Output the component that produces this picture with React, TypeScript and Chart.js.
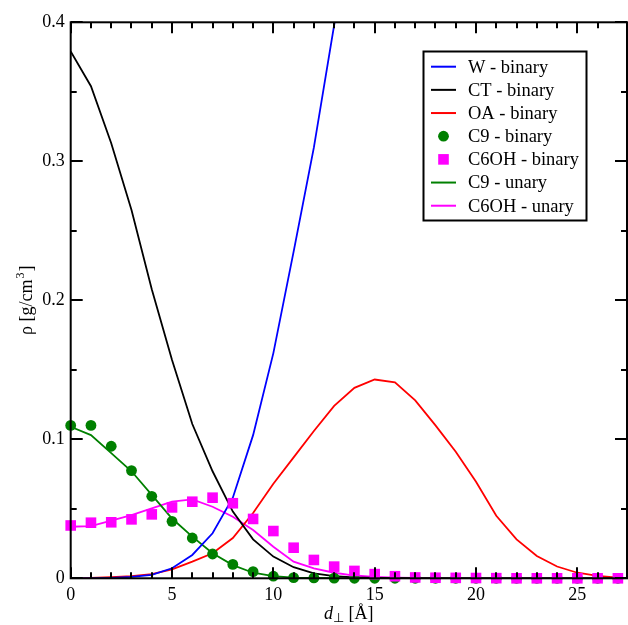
import React, { useEffect, useRef } from "react";
import { Chart, registerables } from "chart.js";

Chart.register(...registerables);

// distance from interface, Å
const xs = [0, 1, 2, 3, 4, 5, 6, 7, 8, 9, 10, 11, 12, 13, 14, 15, 16, 17, 18, 19, 20, 21, 22, 23, 24, 25, 26, 27];

// densities, g/cm^3
const wBinary = [0, 0, 0.0003, 0.001, 0.0025, 0.0072, 0.0168, 0.0324, 0.058, 0.103, 0.162, 0.235, 0.31, 0.398, 0.48];
const ctBinary = [0.379, 0.354, 0.313, 0.265, 0.208, 0.157, 0.111, 0.077, 0.048, 0.028, 0.0156, 0.008, 0.0036, 0.0016, 0.0006, 0.0002, 0.0001, 0, 0, 0, 0, 0, 0, 0, 0, 0, 0, 0];
const oaBinary = [0, 0.0003, 0.0008, 0.0015, 0.003, 0.0065, 0.012, 0.018, 0.029, 0.047, 0.068, 0.087, 0.106, 0.124, 0.137, 0.143, 0.141, 0.128, 0.11, 0.091, 0.0695, 0.045, 0.028, 0.016, 0.0085, 0.004, 0.0017, 0.0005];
const c9Binary = [0.11, 0.11, 0.095, 0.0775, 0.059, 0.041, 0.029, 0.0175, 0.01, 0.0048, 0.0015, 0.0005, 0.0003, 0.0001, 0, 0, 0, 0, 0, 0, 0, 0, 0, 0, 0, 0, 0, 0];
const c6ohBinary = [0.038, 0.04, 0.0403, 0.0424, 0.046, 0.051, 0.0551, 0.058, 0.054, 0.0427, 0.034, 0.022, 0.0132, 0.0084, 0.0053, 0.003, 0.0015, 0.0006, 0.0004, 0.0003, 0.0002, 0.0001, 0, 0, 0, 0, 0, 0];
const c9Unary = [0.109, 0.103, 0.09, 0.077, 0.06, 0.043, 0.03, 0.018, 0.0095, 0.004, 0.0015, 0.0005, 0.0002, 0.0001, 0, 0, 0, 0, 0, 0, 0, 0, 0, 0, 0, 0, 0, 0];
const c6ohUnary = [0.0371, 0.0376, 0.0415, 0.0455, 0.0503, 0.0551, 0.0568, 0.0515, 0.0443, 0.0347, 0.0227, 0.012, 0.0072, 0.004, 0.002, 0.001, 0.0005, 0.0002, 0.0001, 0, 0, 0, 0, 0, 0, 0, 0, 0];

const seriesLabels = ["W - binary", "CT - binary", "OA - binary", "C9 - binary", "C6OH - binary", "C9 - unary", "C6OH - unary"];

const xMajorStep = 5;
const yMajorStep = 0.1;

const FONT = '"Liberation Serif", "Times New Roman", serif';

const pts = (arr: number[]) => arr.map((v, i) => ({ x: xs[i], y: v }));

const framePlugin = {
  id: "frameAndLegend",
  afterDraw(chart: any) {
    const { ctx, chartArea: a } = chart;
    const xS = chart.scales.x;
    const yS = chart.scales.y;
    ctx.save();
    ctx.strokeStyle = "#000";
    ctx.lineWidth = 2;
    ctx.lineCap = "butt";
    ctx.strokeRect(a.left, a.top, a.right - a.left, a.bottom - a.top);
    const seg = (x1: number, y1: number, x2: number, y2: number) => {
      ctx.beginPath();
      ctx.moveTo(x1, y1);
      ctx.lineTo(x2, y2);
      ctx.stroke();
    };
    xS.ticks.forEach((t: any) => {
      if (!Number.isInteger(t.value)) return;
      const px = Math.round(xS.getPixelForValue(t.value));
      const len = t.value % xMajorStep === 0 ? 11 : 6;
      seg(px, a.bottom, px, a.bottom - len);
      seg(px, a.top, px, a.top + len);
    });
    yS.ticks.forEach((t: any) => {
      const k = Math.round(t.value * 100);
      const py = Math.round(yS.getPixelForValue(t.value));
      const len = k % Math.round(yMajorStep * 100) === 0 ? 12 : 6;
      seg(a.left, py, a.left + len, py);
      seg(a.right, py, a.right - len, py);
    });

    // axis titles
    ctx.fillStyle = "#000";
    ctx.textBaseline = "alphabetic";
    ctx.textAlign = "left";
    // y title
    ctx.save();
    ctx.translate(32, (a.top + a.bottom) / 2);
    ctx.rotate(-Math.PI / 2);
    ctx.font = `18px ${FONT}`;
    const p1 = "ρ [g/cm";
    const p3 = "]";
    const w1 = ctx.measureText(p1).width;
    ctx.font = `12px ${FONT}`;
    const w2 = ctx.measureText("3").width;
    ctx.font = `18px ${FONT}`;
    const w3 = ctx.measureText(p3).width;
    const sx = -(w1 + w2 + 2 + w3) / 2;
    ctx.fillText(p1, sx, 0);
    ctx.font = `12px ${FONT}`;
    ctx.fillText("3", sx + w1 + 1, -8);
    ctx.font = `18px ${FONT}`;
    ctx.fillText(p3, sx + w1 + w2 + 2, 0);
    ctx.restore();

    // x title
    {
      const cx = (a.left + a.right) / 2;
      const by = 619;
      ctx.font = `italic 18px ${FONT}`;
      const wd = ctx.measureText("d").width;
      ctx.font = `13px ${FONT}`;
      const wp = ctx.measureText("⊥").width;
      ctx.font = `18px ${FONT}`;
      const rest = " [Å]";
      const wr = ctx.measureText(rest).width;
      const x0 = cx - (wd + wp + wr) / 2;
      ctx.font = `italic 18px ${FONT}`;
      ctx.fillText("d", x0, by);
      ctx.font = `13px ${FONT}`;
      ctx.fillText("⊥", x0 + wd, by + 3);
      ctx.font = `18px ${FONT}`;
      ctx.fillText(rest, x0 + wd + wp, by);
    }

    // legend
    const bx = 423.5, by0 = 51.5, bw = 163, bh = 169;
    ctx.fillStyle = "#fff";
    ctx.fillRect(bx, by0, bw, bh);
    ctx.strokeStyle = "#000";
    ctx.lineWidth = 2;
    ctx.strokeRect(bx, by0, bw, bh);
    ctx.font = `18.5px ${FONT}`;
    ctx.textBaseline = "middle";
    chart.data.datasets.forEach((ds: any, i: number) => {
      const ry = 66.7 + i * 23.17;
      const col = ds.borderColor;
      if (ds.showLine === false) {
        ctx.fillStyle = ds.pointBackgroundColor;
        if (ds.pointStyle === "rect") {
          ctx.fillRect(443.5 - 5.3, ry - 5.3, 10.6, 10.6);
        } else {
          ctx.beginPath();
          ctx.arc(443.5, ry, 5.4, 0, Math.PI * 2);
          ctx.fill();
        }
      } else {
        ctx.strokeStyle = col;
        ctx.lineWidth = 2;
        seg(431, ry, 456, ry);
      }
      ctx.fillStyle = "#000";
      ctx.fillText(ds.label, 468, ry + 1);
    });
    ctx.restore();
  },
};

export default function App() {
  const ref = useRef<HTMLCanvasElement>(null);
  useEffect(() => {
    if (!ref.current) return;
    const lineDs = (label: string, arr: number[], color: string, extra: any = {}) => ({
      label,
      data: pts(arr),
      borderColor: color,
      backgroundColor: color,
      borderWidth: 1.8,
      pointRadius: 0,
      tension: 0,
      order: 3,
      ...extra,
    });
    const markDs = (label: string, arr: number[], color: string, style: string, r: number, order: number) => ({
      label,
      data: pts(arr),
      borderColor: color,
      backgroundColor: color,
      pointBackgroundColor: color,
      pointBorderWidth: 0,
      showLine: false,
      pointStyle: style,
      pointRadius: r,
      order,
      clip: false,
    });
    const chart = new Chart(ref.current, {
      type: "line",
      data: {
        datasets: [
          lineDs(seriesLabels[0], wBinary, "#0000ff", { clip: 0 }),
          lineDs(seriesLabels[1], ctBinary, "#000000"),
          lineDs(seriesLabels[2], oaBinary, "#ff0000"),
          markDs(seriesLabels[3], c9Binary, "#008000", "circle", 5.4, 2),
          markDs(seriesLabels[4], c6ohBinary, "#ff00ff", "rect", 7.5, 1),
          lineDs(seriesLabels[5], c9Unary, "#008000"),
          lineDs(seriesLabels[6], c6ohUnary, "#ff00ff"),
        ] as any,
      },
      options: {
        animation: false,
        responsive: false,
        devicePixelRatio: 1,
        layout: { autoPadding: false, padding: { top: 22.3, right: 1, left: 0, bottom: 0 } },
        plugins: { legend: { display: false }, tooltip: { enabled: false }, title: { display: false } },
        scales: {
          x: {
            type: "linear",
            min: 0,
            max: 27.45,
            grid: { display: false, drawTicks: false },
            border: { display: false },
            ticks: {
              stepSize: 1,
              autoSkip: false,
              maxRotation: 0,
              padding: 6,
              color: "#000",
              font: { family: FONT, size: 18 },
              callback: (v: any) => (Number.isInteger(v) && v % xMajorStep === 0 ? String(v) : ""),
            },
            afterFit: (s: any) => {
              s.height = 46.7;
              s.paddingLeft = 0;
              s.paddingRight = 0;
            },
          },
          y: {
            type: "linear",
            min: 0,
            max: 0.4,
            grid: { display: false, drawTicks: false },
            border: { display: false },
            ticks: {
              stepSize: 0.05,
              autoSkip: false,
              padding: 6,
              color: "#000",
              font: { family: FONT, size: 18 },
              callback: (v: any) => {
                const k = Math.round(v * 100);
                return k % Math.round(yMajorStep * 100) === 0 ? String(k / 100) : "";
              },
            },
            afterFit: (s: any) => {
              s.width = 70.7;
              s.paddingTop = 0;
              s.paddingBottom = 0;
            },
          },
        },
      } as any,
      plugins: [framePlugin],
    });
    return () => chart.destroy();
  }, []);
  return (
    <div style={{ position: "absolute", left: 0, top: 0, width: 628, height: 625, background: "#fff" }}>
      <canvas ref={ref} width={628} height={625} style={{ display: "block" }} />
    </div>
  );
}
